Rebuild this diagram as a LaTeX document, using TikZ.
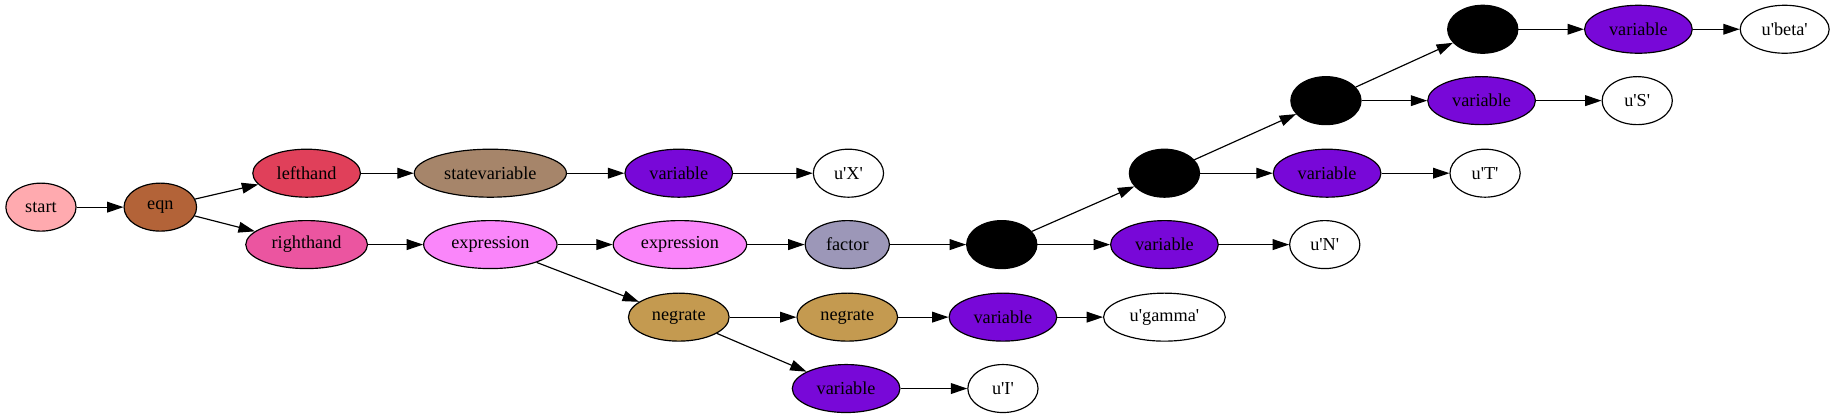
\documentclass[tikz,border=0pt]{standalone}
\usepackage{fontspec}
\setmainfont{Liberation Serif}
\usetikzlibrary{shapes.geometric,arrows.meta}
\newcommand{\sq}{\textquotesingle}
\definecolor{cstart}{RGB}{255,170,175}
\definecolor{ceqn}{RGB}{179,99,56}
\definecolor{cleft}{RGB}{224,64,90}
\definecolor{cstate}{RGB}{166,133,106}
\definecolor{cvar}{RGB}{120,8,216}
\definecolor{cright}{RGB}{235,85,160}
\definecolor{cexpr}{RGB}{250,134,250}
\definecolor{cfactor}{RGB}{156,151,184}
\definecolor{cneg}{RGB}{196,154,80}
\tikzset{
  nd/.style={ellipse, draw=black, line width=0.5pt, inner sep=0pt, minimum height=20.5pt,
    font=\fontsize{7.8}{9}\selectfont},
  edge/.style={line width=0.5pt, -{Triangle[length=7pt,width=4.6pt]}},
}
\begin{document}
\begin{tikzpicture}[x=0.5pt,y=-0.5pt]
\useasboundingbox (0,0) rectangle (1568,358);
\node[nd, fill=cstart, minimum width=30pt] (start) at (35,177) {start};
\node[nd, fill=ceqn, minimum width=31pt] (eqn) at (137,177) {eqn};
\node[nd, fill=cleft, minimum width=46pt] (lh) at (262,148) {lefthand};
\node[nd, fill=cstate, minimum width=65pt] (sv) at (419,148) {statevariable};
\node[nd, fill=cvar, minimum width=46pt] (vX) at (580,148) {variable};
\node[nd, fill=white, minimum width=30pt] (uX) at (725,148) {u\sq X\sq};
\node[nd, fill=cright, minimum width=52pt] (rh) at (262,209) {righthand};
\node[nd, fill=cexpr, minimum width=57pt] (ex1) at (419,209) {expression};
\node[nd, fill=cexpr, minimum width=57pt] (ex2) at (581,209) {expression};
\node[nd, fill=cfactor, minimum width=36pt] (fac) at (724,209) {factor};
\node[nd, fill=black, minimum width=30pt] (b1) at (856,209) {};
\node[nd, fill=cvar, minimum width=46pt] (vN) at (995,209) {variable};
\node[nd, fill=white, minimum width=30pt] (uN) at (1132,209) {u\sq N\sq};
\node[nd, fill=black, minimum width=30pt] (b2) at (995,148) {};
\node[nd, fill=cvar, minimum width=46pt] (vT) at (1134,148) {variable};
\node[nd, fill=white, minimum width=30pt] (uT) at (1269,148) {u\sq T\sq};
\node[nd, fill=black, minimum width=30pt] (b3) at (1133,86) {};
\node[nd, fill=cvar, minimum width=46pt] (vS) at (1266,86) {variable};
\node[nd, fill=white, minimum width=30pt] (uS) at (1399,86) {u\sq S\sq};
\node[nd, fill=black, minimum width=30pt] (b4) at (1267,25) {};
\node[nd, fill=cvar, minimum width=46pt] (vB) at (1400,25) {variable};
\node[nd, fill=white, minimum width=38pt] (uB) at (1525,25) {u\sq beta\sq};
\node[nd, fill=cneg, minimum width=43pt] (ng1) at (580,271) {negrate};
\node[nd, fill=cneg, minimum width=43pt] (ng2) at (724,271) {negrate};
\node[nd, fill=cvar, minimum width=46pt] (vG) at (857,271) {variable};
\node[nd, fill=white, minimum width=52pt] (uG) at (995,271) {u\sq gamma\sq};
\node[nd, fill=cvar, minimum width=46pt] (vI) at (723,332) {variable};
\node[nd, fill=white, minimum width=30pt] (uI) at (857,332) {u\sq I\sq};
\draw[edge] (start) -- (eqn);
\draw[edge] (eqn) -- (lh);
\draw[edge] (eqn) -- (rh);
\draw[edge] (lh) -- (sv);
\draw[edge] (sv) -- (vX);
\draw[edge] (vX) -- (uX);
\draw[edge] (rh) -- (ex1);
\draw[edge] (ex1) -- (ex2);
\draw[edge] (ex1) -- (ng1);
\draw[edge] (ex2) -- (fac);
\draw[edge] (fac) -- (b1);
\draw[edge] (b1) -- (b2);
\draw[edge] (b1) -- (vN);
\draw[edge] (vN) -- (uN);
\draw[edge] (b2) -- (b3);
\draw[edge] (b2) -- (vT);
\draw[edge] (vT) -- (uT);
\draw[edge] (b3) -- (b4);
\draw[edge] (b3) -- (vS);
\draw[edge] (vS) -- (uS);
\draw[edge] (b4) -- (vB);
\draw[edge] (vB) -- (uB);
\draw[edge] (ng1) -- (ng2);
\draw[edge] (ng1) -- (vI);
\draw[edge] (ng2) -- (vG);
\draw[edge] (vG) -- (uG);
\draw[edge] (vI) -- (uI);
\end{tikzpicture}
\end{document}
